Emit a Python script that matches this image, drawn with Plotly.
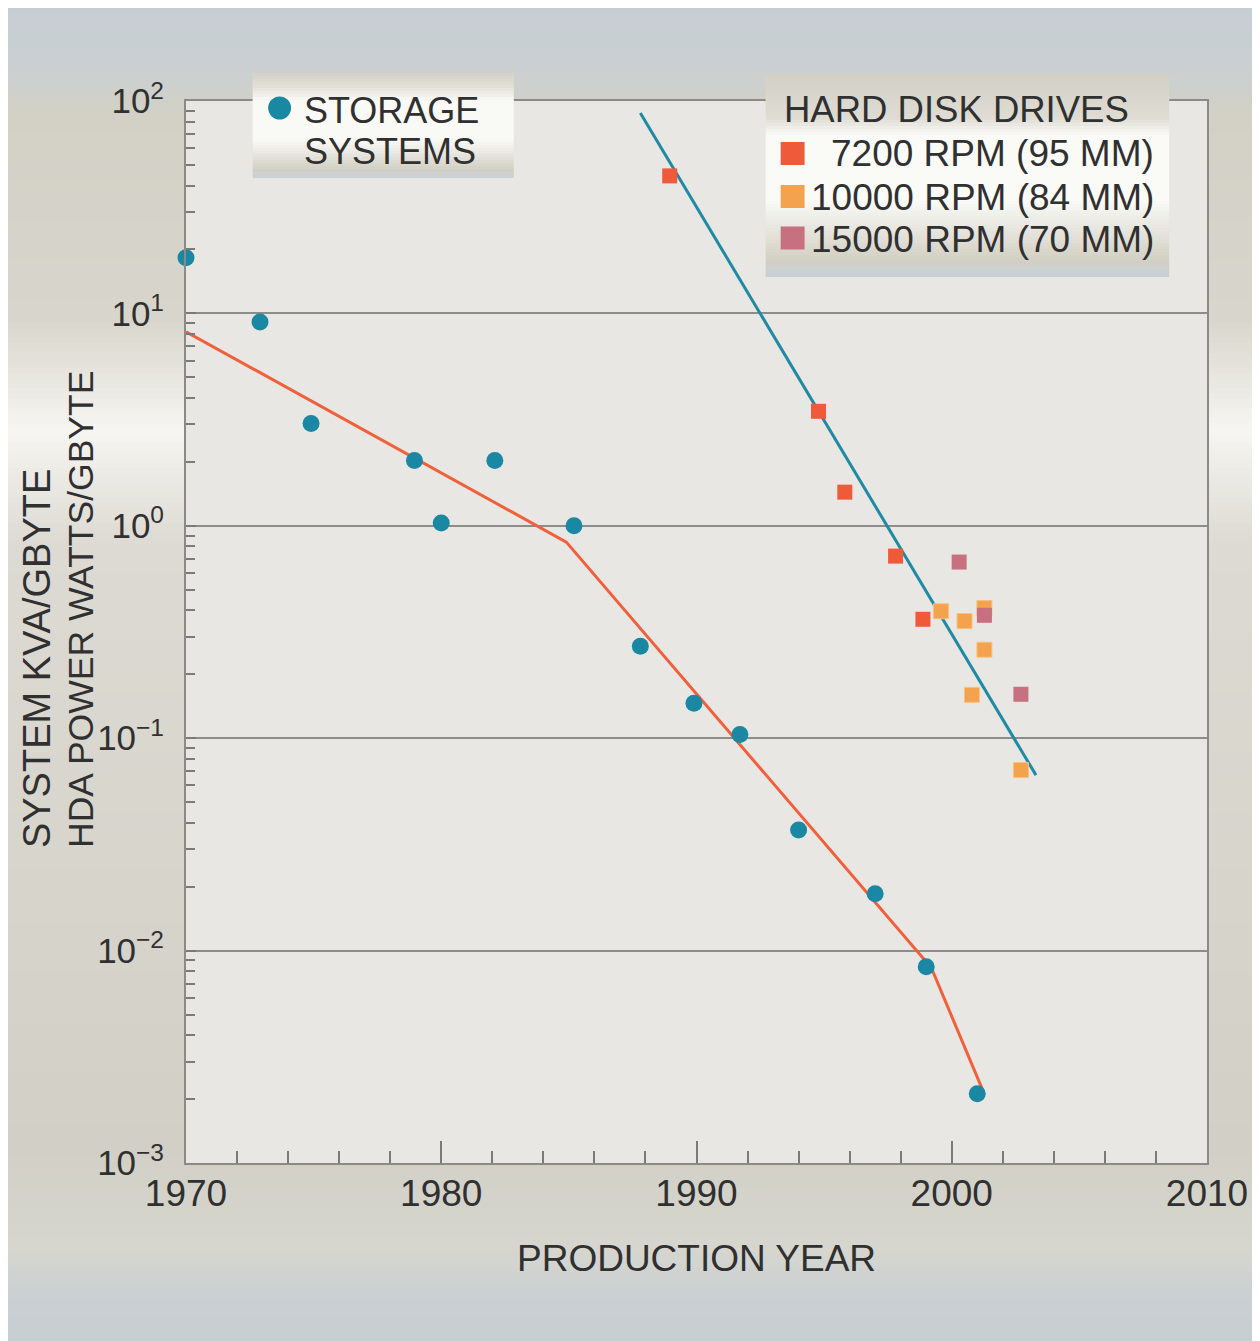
import plotly.graph_objects as go

# ---------------- data ----------------
storage_years = [1970.0, 1972.9, 1974.9, 1978.95, 1980.0, 1982.1, 1985.2, 1987.8, 1989.9, 1991.7, 1994.0, 1997.0, 1999.0, 2001.0]
storage_vals = [18.3, 9.1, 3.03, 2.03, 1.03, 2.03, 1.0, 0.271, 0.146, 0.104, 0.037, 0.0185, 0.0084, 0.00212]

storage_fit_years = [1970.0, 1984.9, 1999.2, 2001.2]
storage_fit_vals = [8.2, 0.838, 0.0083, 0.00222]

hdd_fit_years = [1987.8, 2003.3]
hdd_fit_vals = [87.9, 0.067]

rpm7200_years = [1988.95, 1994.78, 1995.81, 1997.8, 1998.87]
rpm7200_vals = [44.4, 3.46, 1.44, 0.72, 0.363]
rpm10000_years = [1999.58, 2000.5, 2001.28, 2001.28, 2000.79, 2002.71]
rpm10000_vals = [0.396, 0.356, 0.41, 0.261, 0.16, 0.0708]
rpm15000_years = [2000.29, 2001.28, 2002.71]
rpm15000_vals = [0.675, 0.379, 0.161]

y_tick_vals = [1e-3, 1e-2, 1e-1, 1e0, 1e1, 1e2]
y_tick_text = ["10<sup>\u22123</sup>", "10<sup>\u22122</sup>", "10<sup>\u22121</sup>",
               "10<sup>0</sup>", "10<sup>1</sup>", "10<sup>2</sup>"]
x_tick_vals = [1970, 1980, 1990, 2000, 2010]

storage_label = ["STORAGE", "SYSTEMS"]
hdd_title = "HARD DISK DRIVES"
hdd_labels = ["7200 RPM (95 MM)", "10000 RPM (84 MM)", "15000 RPM (70 MM)"]

# ---------------- styling ----------------
FONT = "Liberation Sans, Arial, sans-serif"
TXT = "#303030"
C_BLUE_DOT = "#1a88a3"
C_7200 = "#ef5a3a"
C_10000 = "#f4a24d"
C_15000 = "#c7707f"

BODY = 8                       # page body margin of the html page
SCREEN_W, SCREEN_H = 1260, 1341
W, H = SCREEN_W - BODY, SCREEN_H - BODY
PX0, PX1, PY0, PY1 = 186, 1211, 101, 1163   # plot area in screen px
ML, MR, MT, MB = PX0 - BODY, SCREEN_W - PX1, PY0 - BODY, SCREEN_H - PY1
PW, PH = PX1 - PX0, PY1 - PY0


def px(sx):
    return (sx - PX0) / PW


def py(sy):
    return (PY1 - sy) / PH


def hex2rgb(h):
    h = h.lstrip("#")
    return tuple(int(h[i:i + 2], 16) for i in (0, 2, 4))


def grad(stops, v):
    for (a0, c0), (a1, c1) in zip(stops[:-1], stops[1:]):
        if a0 <= v <= a1:
            t = 0 if a1 == a0 else (v - a0) / (a1 - a0)
            a, b = hex2rgb(c0), hex2rgb(c1)
            return "rgb(%d,%d,%d)" % tuple(round(a[i] + (b[i] - a[i]) * t) for i in range(3))
    return stops[-1][1]


def gradient_rects(x0, x1, y0, y1, stops, step=4, layer="below"):
    out = []
    s = y0
    while s < y1:
        e = min(s + step, y1)
        out.append(dict(type="rect", xref="paper", yref="paper",
                        x0=px(x0), x1=px(x1), y0=py(min(e + 1, y1)), y1=py(s),
                        fillcolor=grad(stops, (s + e) / 2), line=dict(width=0), layer=layer))
        s = e
    return out


fig = go.Figure()

fig.add_trace(go.Scatter(x=storage_fit_years, y=storage_fit_vals, mode="lines",
                         line=dict(color="#f0603a", width=3), showlegend=False, hoverinfo="skip"))
fig.add_trace(go.Scatter(x=hdd_fit_years, y=hdd_fit_vals, mode="lines",
                         line=dict(color="#1f8aa2", width=3), showlegend=False, hoverinfo="skip"))
fig.add_trace(go.Scatter(x=storage_years, y=storage_vals, mode="markers", name="STORAGE SYSTEMS",
                         marker=dict(color=C_BLUE_DOT, size=17, symbol="circle"),
                         cliponaxis=False, showlegend=False))
fig.add_trace(go.Scatter(x=rpm7200_years, y=rpm7200_vals, mode="markers", name=hdd_labels[0],
                         marker=dict(color=C_7200, size=15, symbol="square"), showlegend=False))
fig.add_trace(go.Scatter(x=rpm10000_years, y=rpm10000_vals, mode="markers", name=hdd_labels[1],
                         marker=dict(color=C_10000, size=15, symbol="square",
                                     line=dict(color="#f8c27e", width=1)), showlegend=False))
fig.add_trace(go.Scatter(x=rpm15000_years, y=rpm15000_vals, mode="markers", name=hdd_labels[2],
                         marker=dict(color=C_15000, size=15, symbol="square"), showlegend=False))

# ---------------- background ----------------
bg_stops = [(0, "#c7ced3"), (62, "#c9cfd2"), (115, "#d3d1c6"), (320, "#d8d6cc"),
            (430, "#f6f5f1"), (545, "#dcdad2"), (900, "#d6d4cb"), (1150, "#d2d0c6"),
            (1250, "#d6d6cf"), (1300, "#c9cfd3"), (1341, "#c8cfd3")]
shapes = gradient_rects(0, SCREEN_W + 2, BODY, SCREEN_H, bg_stops, step=5)
shapes.append(dict(type="rect", xref="paper", yref="paper", x0=0, x1=1, y0=0, y1=1,
                   fillcolor="#e9e7e3", line=dict(width=0), layer="below"))

# ---------------- legend boxes (drawn manually) ----------------
lg1_stops = [(73, "#d3d1c6"), (88, "#e4e2da"), (100, "#f9f9f6"), (140, "#f9f9f6"),
             (170, "#d2cfc3"), (174, "#cdd1d2"), (178, "#c9d0d4")]
lg2_stops = [(75, "#d3d1c6"), (118, "#dedcd3"), (135, "#fafaf7"), (200, "#fafaf7"),
             (262, "#d1cec2"), (268, "#cdd1d2"), (277, "#c9d0d4")]
shapes += gradient_rects(253, 515, 73, 178, lg1_stops, step=3, layer="above")
shapes += gradient_rects(768, 1173, 75, 277, lg2_stops, step=3, layer="above")

# legend symbols
shapes.append(dict(type="circle", xref="paper", yref="paper", x0=px(268.5), x1=px(291.5),
                   y0=py(119.5), y1=py(96.5), fillcolor=C_BLUE_DOT, line=dict(width=0), layer="above"))
for cy, col in zip([153.5, 196.5, 238], [C_7200, C_10000, C_15000]):
    shapes.append(dict(type="rect", xref="paper", yref="paper", x0=px(783), x1=px(807),
                       y0=py(cy + 11.5), y1=py(cy - 11.5), fillcolor=col,
                       line=dict(width=0), layer="above"))

minor_y = [m * 10 ** e for e in range(-3, 2) for m in range(2, 10)]

annotations = [
    dict(text="PRODUCTION YEAR", xref="paper", yref="paper", x=px(699), y=py(1258),
         xanchor="center", yanchor="middle", showarrow=False,
         font=dict(size=37, color=TXT, family=FONT)),
    dict(text="SYSTEM KVA/GBYTE", xref="paper", yref="paper", x=px(37), y=py(850),
         xanchor="center", yanchor="bottom", textangle=-90, showarrow=False,
         font=dict(size=38, color=TXT, family=FONT)),
    dict(text="HDA POWER WATTS/GBYTE", xref="paper", yref="paper", x=px(81), y=py(850),
         xanchor="center", yanchor="bottom", textangle=-90, showarrow=False,
         font=dict(size=35.5, color=TXT, family=FONT)),
    dict(text=storage_label[0], xref="paper", yref="paper", x=px(302), y=py(111),
         xanchor="left", yanchor="middle", showarrow=False,
         font=dict(size=36, color=TXT, family=FONT)),
    dict(text=storage_label[1], xref="paper", yref="paper", x=px(302), y=py(151),
         xanchor="left", yanchor="middle", showarrow=False,
         font=dict(size=36, color=TXT, family=FONT)),
    dict(text=hdd_title, xref="paper", yref="paper", x=px(784), y=py(110),
         xanchor="left", yanchor="middle", showarrow=False,
         font=dict(size=36.5, color=TXT, family=FONT)),
]
for cy, lab in zip([154, 197, 239], hdd_labels):
    annotations.append(dict(text=lab, xref="paper", yref="paper", x=px(1160), y=py(cy),
                            xanchor="right", yanchor="middle", showarrow=False,
                            font=dict(size=37, color=TXT, family=FONT)))

fig.update_layout(
    width=W, height=H, autosize=False,
    margin=dict(l=ML, r=MR, t=MT, b=MB),
    paper_bgcolor="#d8d6ce", plot_bgcolor="rgba(0,0,0,0)",
    font=dict(family=FONT, size=36, color=TXT),
    showlegend=False,
    shapes=shapes,
    annotations=annotations,
    xaxis=dict(range=[1970, 2010], tickvals=x_tick_vals, ticks="inside", ticklen=22,
               tickwidth=2, tickcolor="#7a7a78", showgrid=False, zeroline=False,
               showline=True, linecolor="#8a8a88", linewidth=2, mirror=True,
               ticklabelstandoff=-3,
               minor=dict(dtick=2, tick0=1970, ticks="inside", ticklen=12, tickwidth=2,
                          tickcolor="#7a7a78", showgrid=False),
               tickfont=dict(size=37, color=TXT, family=FONT)),
    yaxis=dict(type="log", range=[-3, 2], tickvals=y_tick_vals, ticktext=y_tick_text,
               ticks="inside", ticklen=10, tickwidth=2, tickcolor="#7a7a78",
               showgrid=True, gridcolor="#8c8c8a", gridwidth=2, zeroline=False,
               showline=True, linecolor="#8a8a88", linewidth=2, mirror=True,
               ticklabelstandoff=13,
               minor=dict(tickvals=minor_y, ticks="inside", ticklen=9, tickwidth=2,
                          tickcolor="#7a7a78", showgrid=False),
               tickfont=dict(size=35, color=TXT, family=FONT)),
)

fig.write_html("out.html")
